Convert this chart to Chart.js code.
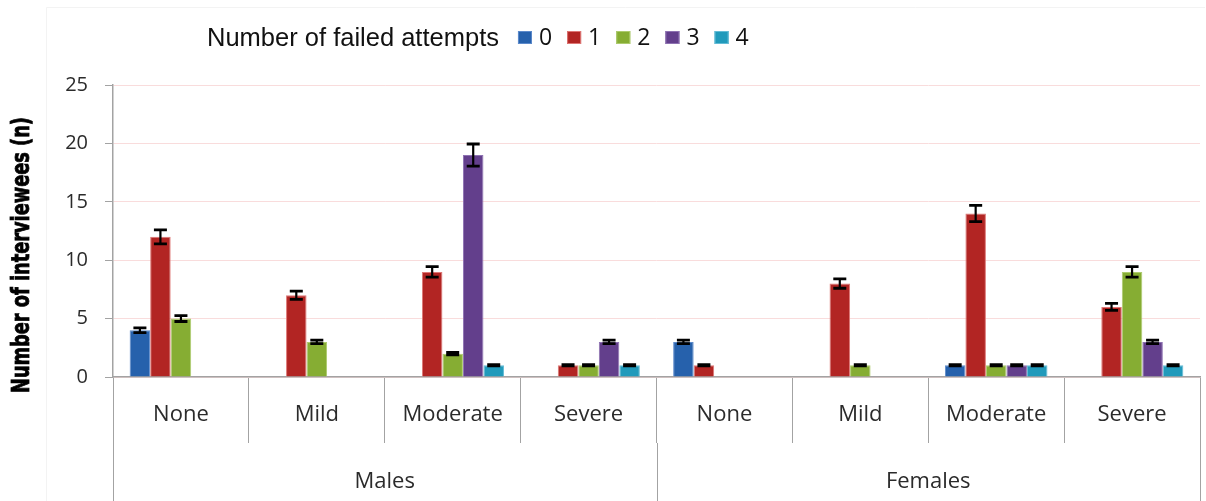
<!DOCTYPE html>
<html>
<head>
<meta charset="utf-8">
<script src="https://cdn.jsdelivr.net/npm/chart.js@4/dist/chart.umd.min.js"></script>
<style>
  html, body { margin: 0; padding: 0; background: #ffffff; }
  #wrap { width: 1206px; height: 501px; position: relative; }
</style>
</head>
<body>
<div id="wrap"><canvas id="chart" width="1206" height="501"></canvas></div>
<script>
// Severity categories, grouped by sex (4 per group)
const severity = ['None', 'Mild', 'Moderate', 'Severe', 'None', 'Mild', 'Moderate', 'Severe'];
const sexGroups = ['Males', 'Females'];
const groupSize = 4;

// Series: number of failed attempts
const attemptLabels = ['0', '1', '2', '3', '4'];
const attempts0 = [4, null, null, null, 3, null, 1, null];
const attempts1 = [12, 7, 9, 1, 1, 8, 14, 6];
const attempts2 = [5, 3, 2, 1, null, 1, 1, 9];
const attempts3 = [null, null, 19, 3, null, null, 1, 3];
const attempts4 = [null, null, 1, 1, null, null, 1, 1];

// Error bar half-widths for each series
const errors0 = [0.2, null, null, null, 0.15, null, 0.05, null];
const errors1 = [0.6, 0.35, 0.45, 0.05, 0.05, 0.4, 0.7, 0.3];
const errors2 = [0.25, 0.15, 0.1, 0.05, null, 0.05, 0.05, 0.45];
const errors3 = [null, null, 0.95, 0.15, null, null, 0.05, 0.15];
const errors4 = [null, null, 0.05, 0.05, null, null, 0.05, 0.05];

const yTicks = [0, 5, 10, 15, 20, 25];
const legendTitle = 'Number of failed attempts';
const yTitle = 'Number of interviewees (n)';

const seriesValues = [attempts0, attempts1, attempts2, attempts3, attempts4];
const seriesErrors = [errors0, errors1, errors2, errors3, errors4];
const fillColors = ['#2661AC', '#B22523', '#86AD33', '#633F8C', '#219ABB'];
const edgeColors = ['#5C8ACB', '#DE7775', '#ADCB6E', '#8E72B2', '#63BCD6'];

const axisGray = '#A3A3A3';
const textColor = '#2B2B2B';

const datasets = seriesValues.map((vals, i) => ({
  label: attemptLabels[i],
  data: vals,
  errors: seriesErrors[i],
  backgroundColor: fillColors[i],
  borderColor: edgeColors[i],
  borderWidth: 1,
  categoryPercentage: 0.755,
  barPercentage: 1.0
}));

// Black error bars with caps, positioned through the y scale
const errorBars = {
  id: 'errorBars',
  afterDatasetsDraw(chart) {
    const ctx = chart.ctx;
    const y = chart.scales.y;
    ctx.save();
    ctx.strokeStyle = '#000000';
    chart.data.datasets.forEach((ds, di) => {
      const meta = chart.getDatasetMeta(di);
      ds.data.forEach((v, i) => {
        const e = ds.errors[i];
        if (v == null || e == null) return;
        const bar = meta.data[i];
        const cx = bar.x;
        const top = y.getPixelForValue(v + e);
        const bot = y.getPixelForValue(v - e);
        const half = 6.5;
        ctx.lineWidth = 2.2;
        ctx.beginPath();
        ctx.moveTo(cx, top);
        ctx.lineTo(cx, bot);
        ctx.stroke();
        ctx.lineWidth = 2.8;
        ctx.beginPath();
        ctx.moveTo(cx - half, top);
        ctx.lineTo(cx + half, top);
        ctx.moveTo(cx - half, bot);
        ctx.lineTo(cx + half, bot);
        ctx.stroke();
      });
    });
    ctx.restore();
  }
};

// Second-level x axis: sex groups with long separators
const groupAxis = {
  id: 'groupAxis',
  afterDraw(chart) {
    const ctx = chart.ctx;
    const x = chart.scales.x;
    const area = chart.chartArea;
    const bounds = [area.left];
    for (let g = 1; g < sexGroups.length; g++) {
      const k = g * groupSize;
      bounds.push((x.getPixelForTick(k - 1) + x.getPixelForTick(k)) / 2);
    }
    bounds.push(area.right);
    ctx.save();
    ctx.strokeStyle = axisGray;
    ctx.lineWidth = 1;
    bounds.forEach(bx => {
      const px = Math.round(bx) + 0.5;
      ctx.beginPath();
      ctx.moveTo(px, area.bottom + 66);
      ctx.lineTo(px, chart.height);
      ctx.stroke();
    });
    ctx.fillStyle = textColor;
    ctx.font = '22px "Open Sans", "Noto Sans", sans-serif';
    ctx.textAlign = 'center';
    ctx.textBaseline = 'middle';
    sexGroups.forEach((g, gi) => {
      ctx.fillText(g, (bounds[gi] + bounds[gi + 1]) / 2, 482);
    });
    ctx.restore();
  }
};

// Inline legend with leading title, and rotated y-axis title
const decorations = {
  id: 'decorations',
  afterDraw(chart) {
    const ctx = chart.ctx;
    ctx.save();
    // faint outer frame
    ctx.strokeStyle = '#F3F3F3';
    ctx.lineWidth = 1;
    ctx.beginPath();
    ctx.moveTo(46.5, chart.height);
    ctx.lineTo(46.5, 7.5);
    ctx.lineTo(chart.width - 1, 7.5);
    ctx.stroke();

    // legend
    ctx.fillStyle = '#111111';
    ctx.textBaseline = 'alphabetic';
    ctx.textAlign = 'left';
    ctx.font = '25.5px "Liberation Sans", Arial, sans-serif';
    ctx.fillText(legendTitle, 207, 46);
    let lx = 207 + ctx.measureText(legendTitle).width + 19;
    ctx.font = '23px "Open Sans", "Noto Sans", sans-serif';
    chart.data.datasets.forEach(ds => {
      ctx.fillStyle = ds.backgroundColor;
      ctx.fillRect(lx, 31, 14, 13);
      ctx.strokeStyle = ds.borderColor;
      ctx.strokeRect(lx + 0.5, 31.5, 13, 12);
      ctx.fillStyle = '#111111';
      ctx.fillText(ds.label, lx + 21, 45);
      lx += 21 + ctx.measureText(ds.label).width + 15;
    });

    // y-axis title, bold and condensed
    ctx.translate(23, 255);
    ctx.rotate(-Math.PI / 2);
    ctx.font = 'bold 24px "Liberation Sans Narrow", "DejaVu Sans Condensed", "Liberation Sans", sans-serif';
    const w = ctx.measureText(yTitle).width;
    ctx.scale(276 / w, 1);
    ctx.textAlign = 'center';
    ctx.textBaseline = 'middle';
    ctx.fillStyle = '#000000';
    ctx.strokeStyle = '#000000';
    ctx.lineWidth = 0.8;
    ctx.fillText(yTitle, 0, 0);
    ctx.strokeText(yTitle, 0, 0);
    ctx.restore();
  }
};

new Chart(document.getElementById('chart'), {
  type: 'bar',
  data: { labels: severity, datasets },
  options: {
    responsive: false,
    animation: false,
    devicePixelRatio: 1,
    layout: { padding: { left: 0, right: 6, top: 85, bottom: 0 } },
    plugins: {
      legend: { display: false },
      tooltip: { enabled: false },
      title: { display: false }
    },
    scales: {
      x: {
        offset: true,
        grid: {
          display: true,
          offset: true,
          drawOnChartArea: false,
          drawTicks: true,
          tickLength: 66,
          color: axisGray,
          tickColor: axisGray,
          lineWidth: 1
        },
        border: { display: true, color: axisGray, width: 1.5 },
        ticks: {
          autoSkip: false,
          maxRotation: 0,
          padding: -41,
          color: textColor,
          font: { family: '"Open Sans", "Noto Sans", sans-serif', size: 22 }
        },
        afterFit(scale) { scale.height = 124; }
      },
      y: {
        min: yTicks[0],
        max: yTicks[yTicks.length - 1],
        afterBuildTicks(scale) { scale.ticks = yTicks.map(v => ({ value: v })); },
        grid: {
          color: '#F9DCDC',
          tickColor: axisGray,
          tickLength: 8,
          lineWidth: 1
        },
        border: { display: true, color: axisGray, width: 1.5 },
        ticks: {
          padding: 17,
          color: textColor,
          font: { family: '"Open Sans", "Noto Sans", sans-serif', size: 20 }
        },
        afterFit(scale) { scale.width = 113; }
      }
    }
  },
  plugins: [errorBars, groupAxis, decorations]
});
</script>
</body>
</html>
